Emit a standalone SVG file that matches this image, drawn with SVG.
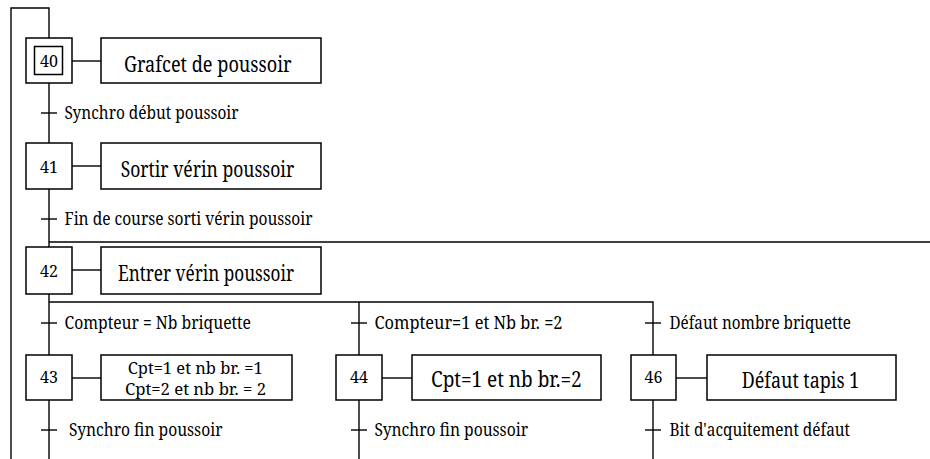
<svg xmlns="http://www.w3.org/2000/svg" width="930" height="459" viewBox="0 0 930 459">
<style>
  .ln { stroke:#000; stroke-width:1.4; fill:none; }
  .bx { stroke:#000; stroke-width:1.5; fill:#fff; }
  text { font-family:'Noto Serif','DejaVu Serif',serif; fill:#000; }
  .num { font-size:16px; text-anchor:middle; }
  .act { font-size:22px; }
  .act2 { font-size:15.5px; }
  .tr { font-size:18.5px; }
</style>
<rect width="930" height="459" fill="#fff"/>
<g id="connectors">
  <path class="ln" d="M11,459 V8 H49 V38"/>
  <path class="ln" d="M49,83 V143"/>
  <path class="ln" d="M49,189 V247"/>
  <path class="ln" d="M49,242 H930"/>
  <path class="ln" d="M49,294 V355"/>
  <path class="ln" d="M49,302 H653 V355"/>
  <path class="ln" d="M359,302 V355"/>
  <path class="ln" d="M49,400 V459"/>
  <path class="ln" d="M359,400 V459"/>
  <path class="ln" d="M653,400 V459"/>
  <path class="ln" d="M72,61 H101"/>
  <path class="ln" d="M72,166 H101"/>
  <path class="ln" d="M72,270 H101"/>
  <path class="ln" d="M72,378 H101"/>
  <path class="ln" d="M382,378 H412"/>
  <path class="ln" d="M676,378 H707"/>
</g>
<g id="t40">
  <path class="ln" d="M41,113 H57"/>
  <text class="tr" x="64.5" y="119" textLength="174" lengthAdjust="spacingAndGlyphs">Synchro début poussoir</text>
</g>
<g id="t41">
  <path class="ln" d="M41,219 H57"/>
  <text class="tr" x="64.5" y="224.5" textLength="248" lengthAdjust="spacingAndGlyphs">Fin de course sorti vérin poussoir</text>
</g>
<g id="t42a">
  <path class="ln" d="M41,323 H57"/>
  <text class="tr" x="64.5" y="329" textLength="186.5" lengthAdjust="spacingAndGlyphs">Compteur = Nb briquette</text>
</g>
<g id="t42b">
  <path class="ln" d="M351,323 H367"/>
  <text class="tr" x="374.5" y="329" textLength="188" lengthAdjust="spacingAndGlyphs">Compteur=1 et Nb br. =2</text>
</g>
<g id="t42c">
  <path class="ln" d="M645,323 H661"/>
  <text class="tr" x="669.5" y="329" textLength="181.5" lengthAdjust="spacingAndGlyphs">Défaut nombre briquette</text>
</g>
<g id="t43">
  <path class="ln" d="M41,430 H57"/>
  <text class="tr" x="69" y="436" textLength="153.5" lengthAdjust="spacingAndGlyphs">Synchro fin poussoir</text>
</g>
<g id="t44">
  <path class="ln" d="M351,430 H367"/>
  <text class="tr" x="374.5" y="436" textLength="153.5" lengthAdjust="spacingAndGlyphs">Synchro fin poussoir</text>
</g>
<g id="t46">
  <path class="ln" d="M645,430 H661"/>
  <text class="tr" x="669.5" y="436" textLength="180.5" lengthAdjust="spacingAndGlyphs">Bit d'acquitement défaut</text>
</g>
<g id="step40">
  <rect class="bx" x="26" y="38" width="46" height="45"/>
  <rect class="bx" x="34.5" y="46.5" width="28" height="28"/>
  <text class="num" x="49" y="66.5">40</text>
</g>
<g id="action40">
  <rect class="bx" x="101" y="38" width="220" height="45"/>
  <text class="act" x="124" y="71.5" textLength="167.5" lengthAdjust="spacingAndGlyphs">Grafcet de poussoir</text>
</g>
<g id="step41">
  <rect class="bx" x="26" y="143" width="46" height="46"/>
  <text class="num" x="49" y="172.5">41</text>
</g>
<g id="action41">
  <rect class="bx" x="101" y="143" width="220" height="46"/>
  <text class="act" x="120.7" y="176.5" textLength="173.5" lengthAdjust="spacingAndGlyphs">Sortir vérin poussoir</text>
</g>
<g id="step42">
  <rect class="bx" x="26" y="247" width="46" height="47"/>
  <text class="num" x="49" y="276.5">42</text>
</g>
<g id="action42">
  <rect class="bx" x="101" y="247" width="220" height="47"/>
  <text class="act" x="118" y="280.5" textLength="176" lengthAdjust="spacingAndGlyphs">Entrer vérin poussoir</text>
</g>
<g id="step43">
  <rect class="bx" x="26" y="355" width="46" height="45"/>
  <text class="num" x="49" y="383">43</text>
</g>
<g id="action43">
  <rect class="bx" x="101" y="355" width="191" height="45"/>
  <text class="act2" x="127.7" y="373.5" textLength="135" lengthAdjust="spacingAndGlyphs">Cpt=1 et nb br. =1</text>
  <text class="act2" x="125" y="395" textLength="141" lengthAdjust="spacingAndGlyphs">Cpt=2 et nb br. = 2</text>
</g>
<g id="step44">
  <rect class="bx" x="336" y="355" width="46" height="45"/>
  <text class="num" x="359" y="383">44</text>
</g>
<g id="action44">
  <rect class="bx" x="412" y="355" width="189" height="45"/>
  <text class="act" x="431" y="387" textLength="150.7" lengthAdjust="spacingAndGlyphs">Cpt=1 et nb br.=2</text>
</g>
<g id="step46">
  <rect class="bx" x="631" y="355" width="45" height="45"/>
  <text class="num" x="653.5" y="383">46</text>
</g>
<g id="action46">
  <rect class="bx" x="707" y="355" width="189" height="45"/>
  <text class="act" x="741.7" y="387.5" textLength="117.6" lengthAdjust="spacingAndGlyphs">Défaut tapis 1</text>
</g>
</svg>
